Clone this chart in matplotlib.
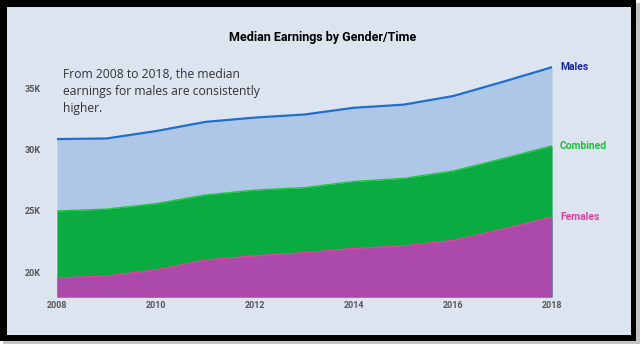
import matplotlib
matplotlib.use("Agg")
import matplotlib.pyplot as plt
from matplotlib.patches import Rectangle

years = [2008, 2009, 2010, 2011, 2012, 2013, 2014, 2015, 2016, 2017, 2018]
males = [30850, 30900, 31500, 32250, 32600, 32850, 33400, 33650, 34350, 35500, 36700]
combined = [25000, 25150, 25600, 26300, 26700, 26900, 27400, 27650, 28250, 29250, 30300]
females = [19550, 19700, 20200, 21000, 21350, 21600, 21950, 22150, 22600, 23500, 24500]
y_ticks = [20000, 25000, 30000, 35000]
y_tick_labels = ["20K", "25K", "30K", "35K"]
x_ticks = [2008, 2010, 2012, 2014, 2016, 2018]

BG = "#dce4f0"
W, H = 644, 350

fig = plt.figure(figsize=(6.44, 3.5), dpi=100, facecolor="white")

# frame: shadow, black border, light panel
fig.patches.append(Rectangle((3 / W, 1 - 344 / H), 637 / W, 341 / H, transform=fig.transFigure,
                             facecolor="#c4c4c4", edgecolor="none", zorder=-3))
fig.patches.append(Rectangle((0, 1 - 341 / H), 636 / W, 341 / H, transform=fig.transFigure,
                             facecolor="black", edgecolor="none", zorder=-2))
fig.patches.append(Rectangle((7 / W, 1 - 335 / H), 624 / W, 328 / H, transform=fig.transFigure,
                             facecolor=BG, edgecolor="none", zorder=-1))

ax = fig.add_axes([57 / W, 53 / H, 495 / W, 233.5 / H])
ax.patch.set_alpha(0)

ax.fill_between(years, 18000, males, color="#aec7e6", lw=0)
ax.plot(years, males, color="#1f6fcc", lw=1.6)
ax.fill_between(years, 18000, combined, color="#0aab40", lw=0)
ax.plot(years, combined, color="#21c63f", lw=1.0)
ax.fill_between(years, 18000, females, color="#ab4aab", lw=0)
ax.plot(years, females, color="#e840a0", lw=1.0)

ax.set_xlim(2008, 2018)
ax.set_ylim(18000, 37000)
ax.set_yticks(y_ticks)
ax.set_yticklabels(y_tick_labels)
ax.set_xticks(x_ticks)
for s in ax.spines.values():
    s.set_visible(False)
ax.tick_params(length=0, labelsize=6.5, labelcolor="#555555")
ax.tick_params(axis="y", pad=12)
ax.tick_params(axis="x", pad=3)
for lbl in ax.get_xticklabels() + ax.get_yticklabels():
    lbl.set_fontweight("bold")
    lbl.set_family("Roboto")

# series labels at the right end
lab = dict(fontsize=7.5, fontweight="bold", va="center", family="Roboto")
ax.text(2018.16, males[-1], "Males", color="#1c2a96", **lab)
ax.text(2018.16, combined[-1], "Combined", color="#1ec23a", **lab)
ax.text(2018.16, females[-1], "Females", color="#e040a0", **lab)

fig.text(323 / W, 1 - 37 / H, "Median Earnings by Gender/Time", ha="center", va="center",
         fontsize=9, fontweight="bold", color="black", family="Roboto")
fig.text(63 / W, 1 - 68 / H,
         "From 2008 to 2018, the median\nearnings for males are consistently\nhigher.",
         ha="left", va="top", fontsize=8.7, color="#333333", linespacing=1.4,
         family="Open Sans")

fig.savefig("out.png", dpi=100, facecolor="white")
